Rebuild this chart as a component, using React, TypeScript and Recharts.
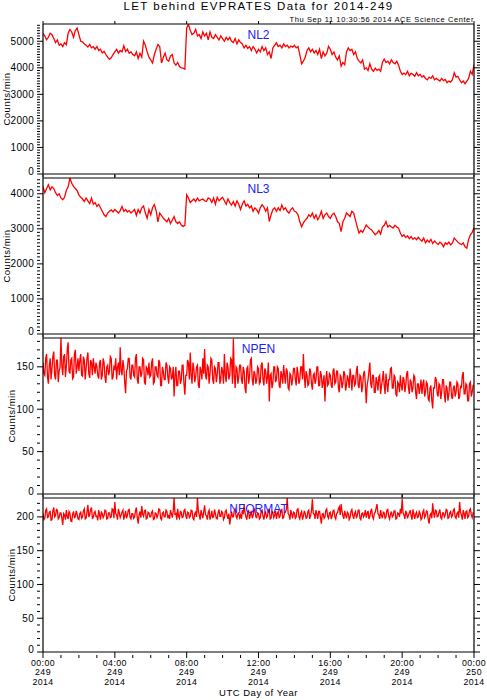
import React from "react";
import { LineChart, Line, XAxis, YAxis } from "recharts";

const TITLE = "LET behind EVPRATES Data for 2014-249";
const STAMP = "Thu Sep 11 10:30:56 2014 ACE Science Center";
const X_TITLE = "UTC Day of Year";
const Y_TITLE = "Counts/min";

// NL2 / NL3: one sample every 6 min; rows = one hour, last value = 24:00
const RATE_STEP_H = 0.1;
// NPEN / NFORMAT: one sample every 3 min; rows = one hour, last value = 24:00
const NOISE_STEP_H = 0.05;

const NL2 = [
  5300, 5200, 5060, 5150, 5300, 5250, 5100, 4950, 5050, 4850,
  4900, 4800, 4950, 4870, 5300, 5440, 5350, 5150, 5400, 5500,
  5250, 5000, 4980, 4900, 4850, 4780, 4880, 4750, 4800, 4700,
  4800, 4650, 4700, 4560, 4620, 4500, 4400, 4320, 4380, 4500,
  4600, 4700, 4550, 4650, 4600, 4830, 4620, 4700, 4550, 4600,
  4500, 4450, 4600, 4350, 4550, 4400, 5000, 4850, 4600, 4400,
  4300, 4180, 4500, 4700, 4880, 4800, 4180, 4400, 4550, 4300,
  4250, 4450, 4500, 4180, 4100, 4200, 4050, 4000, 3990, 3950,
  5500, 5640, 5400, 5250, 5300, 5450, 5200, 5250, 5100, 5350,
  5200, 5300, 5050, 5350, 5150, 5100, 5250, 5150, 5050, 5200,
  5100, 5000, 5150, 5050, 5150, 5000, 4950, 5100, 4900, 5050,
  4950, 4900, 4750, 4850, 4730, 4800, 4650, 4800, 4700, 4560,
  4700, 4600, 4800, 4650, 4750, 4500, 4600, 4350, 4750, 4850,
  4940, 4800, 4850, 4750, 4900, 4800, 4850, 4750, 4820, 4780,
  4850, 4750, 4800, 4500, 4150, 4250, 4400, 4650, 4750, 4600,
  4700, 4560, 4650, 4500, 4700, 4350, 4600, 4450, 4550, 4810,
  4700, 4500, 4600, 4400, 4300, 4450, 4060, 4200, 4120, 4600,
  4750, 4650, 4700, 4500, 4600, 4350, 4250, 4180, 4300, 3950,
  4000, 3900, 4150, 3950, 3870, 3990, 3900, 3950, 3870, 4200,
  4330, 4200, 4250, 4150, 4300, 4200, 4150, 4250, 4100, 3870,
  3750, 3800, 3740, 3870, 3700, 3800, 3750, 3680, 3820, 3700,
  3750, 3650, 3700, 3600, 3550, 3650, 3600, 3700, 3550, 3600,
  3550, 3500, 3600, 3520, 3560, 3440, 3500, 3460, 3550, 3810,
  3650, 3680, 3550, 3440, 3500, 3400, 3500, 3600, 3870, 3750,
  4120,
];

const NL3 = [
  4210, 4030, 4150, 4260, 4110, 4200, 4150, 4030, 3950, 4000,
  3880, 3830, 3900, 4100, 4200, 4450, 4300, 4210, 4150, 4090,
  3970, 3900, 3850, 3780, 3880, 3800, 3720, 3880, 3700, 3750,
  3640, 3700, 3600, 3500, 3400, 3350, 3450, 3500, 3540, 3480,
  3550, 3500, 3450, 3520, 3640, 3500, 3550, 3480, 3520, 3450,
  3500, 3550, 3380, 3550, 3450, 3600, 3650, 3450, 3300, 3550,
  3400, 3600, 3690, 3520, 3200, 3450, 3380, 3300, 3250, 3200,
  3300, 3150, 3250, 3350, 3200, 3150, 3200, 3110, 3070, 3100,
  3970, 3880, 3750, 3800, 3850, 3780, 3880, 3800, 3830, 3850,
  3800, 3780, 3880, 3850, 3750, 3880, 3700, 3900, 3800, 3850,
  3900, 3800, 3700, 3850, 3750, 3680, 3780, 3650, 3800, 3700,
  3550, 3700, 3800, 3650, 3700, 3600, 3650, 3500, 3600, 3540,
  3450, 3600, 3690, 3620, 3500, 3600, 3210, 3400, 3550, 3600,
  3500, 3600, 3520, 3680, 3550, 3600, 3500, 3450, 3550, 3600,
  3500, 3480, 3400, 3200, 3060, 3170, 3250, 3300, 3400, 3350,
  3450, 3300, 3400, 3260, 3350, 3500, 3300, 3400, 3450, 3350,
  3300, 3400, 3450, 3350, 3200, 3150, 2920, 3200, 3300, 3450,
  3400, 3350, 3500, 3450, 3250, 3050, 2880, 2950, 2900, 3000,
  3110, 3050, 3000, 2970, 2900, 2830, 2880, 2950, 2850, 3050,
  3100, 3210, 3050, 3100, 3050, 3020, 3100, 3050, 3020, 2880,
  2780, 2830, 2750, 2800, 2720, 2780, 2700, 2750, 2690, 2760,
  2700, 2650, 2740, 2600, 2680, 2620, 2700, 2580, 2650, 2600,
  2550, 2620, 2580, 2490, 2600, 2560, 2620, 2540, 2600, 2740,
  2680, 2620, 2580, 2550, 2600, 2490, 2450, 2700, 2830, 2900,
  3030,
];

const NPEN = [
  155, 142, 140, 160, 165, 138, 130, 152, 160, 135, 148, 162, 168, 140, 135, 158, 158, 132, 145, 150,
  184, 150, 140, 162, 165, 138, 150, 170, 179, 145, 142, 158, 160, 136, 138, 165, 170, 142, 150, 160,
  145, 158, 165, 140, 139, 162, 158, 135, 148, 160, 167, 142, 137, 158, 155, 140, 160, 150, 142, 155,
  150, 140, 136, 155, 158, 135, 140, 160, 155, 138, 131, 150, 152, 140, 145, 162, 160, 135, 138, 150,
  148, 160, 135, 150, 155, 140, 173, 145, 140, 158, 150, 132, 119, 145, 148, 160, 160, 138, 135, 152,
  152, 140, 138, 160, 165, 135, 130, 150, 150, 138, 142, 160, 158, 132, 129, 150, 148, 140, 155, 138,
  140, 155, 160, 130, 132, 150, 150, 140, 138, 158, 155, 128, 128, 150, 145, 135, 135, 155, 152, 138,
  130, 150, 148, 135, 138, 150, 115, 140, 150, 128, 128, 145, 145, 130, 135, 152, 152, 130, 117, 140,
  140, 158, 155, 135, 167, 140, 130, 155, 148, 132, 138, 150, 152, 128, 125, 150, 145, 135, 160, 142,
  171, 140, 135, 152, 150, 130, 142, 160, 158, 135, 130, 150, 148, 132, 140, 155, 155, 130, 135, 150,
  145, 130, 165, 140, 132, 155, 150, 135, 140, 160, 158, 130, 183, 140, 125, 150, 148, 130, 138, 152,
  152, 135, 130, 150, 145, 125, 119, 148, 150, 130, 138, 158, 160, 135, 128, 145, 142, 130, 135, 150,
  148, 130, 132, 152, 155, 135, 128, 148, 145, 130, 138, 155, 109, 140, 142, 125, 130, 150, 150, 132,
  135, 150, 148, 128, 125, 145, 140, 130, 152, 140, 130, 148, 145, 125, 123, 142, 140, 128, 135, 148,
  148, 135, 128, 150, 142, 130, 135, 150, 150, 135, 165, 140, 125, 145, 140, 128, 130, 148, 145, 130,
  123, 140, 142, 130, 135, 150, 150, 128, 128, 145, 140, 125, 132, 140, 109, 135, 145, 128, 130, 142,
  140, 128, 125, 145, 148, 130, 132, 145, 145, 125, 120, 140, 138, 125, 130, 145, 142, 122, 128, 140,
  135, 125, 148, 138, 122, 140, 140, 128, 130, 145, 151, 128, 125, 140, 138, 120, 128, 142, 145, 130,
  107, 128, 135, 145, 155, 130, 125, 140, 140, 120, 120, 138, 132, 122, 138, 140, 118, 128, 135, 145,
  128, 118, 142, 130, 120, 135, 135, 148, 149, 125, 125, 140, 138, 118, 115, 132, 130, 120, 140, 128,
  122, 138, 135, 120, 128, 142, 145, 125, 118, 135, 132, 120, 125, 140, 138, 120, 112, 130, 130, 118,
  125, 135, 118, 130, 135, 115, 120, 132, 130, 112, 110, 125, 128, 110, 101, 125, 125, 138, 135, 118,
  115, 130, 128, 112, 120, 135, 135, 118, 108, 128, 125, 110, 118, 132, 132, 115, 112, 125, 128, 115,
  120, 132, 130, 112, 115, 128, 125, 140, 144, 118, 118, 130, 128, 110, 110, 130, 132, 115, 120, 128,
  128,
];

const NFORMAT = [
  205, 196, 198, 210, 212, 199, 200, 207, 208, 195, 196, 209, 214, 200, 202, 211, 210, 197, 199, 206,
  206, 198, 188, 205, 203, 196, 210, 201, 197, 208, 205, 194, 193, 204, 208, 199, 200, 209, 204, 197,
  196, 205, 207, 198, 200, 209, 212, 197, 198, 207, 218, 200, 203, 211, 214, 198, 199, 206, 208, 201,
  201, 195, 210, 203, 196, 207, 205, 199, 202, 210, 209, 197, 198, 206, 206, 199, 200, 212, 211, 198,
  222, 205, 203, 196, 212, 206, 199, 203, 207, 210, 196, 202, 209, 198, 202, 210, 211, 199, 197, 205,
  205, 198, 200, 209, 214, 199, 190, 203, 208, 199, 216, 204, 201, 209, 210, 197, 198, 207, 206, 200,
  200, 207, 209, 196, 197, 206, 205, 199, 203, 212, 211, 198, 196, 205, 207, 200, 200, 210, 208, 198,
  203, 197, 210, 205, 199, 208, 228, 204, 205, 196, 212, 201, 198, 208, 207, 199, 200, 209, 211, 202,
  197, 207, 206, 199, 201, 210, 209, 198, 196, 205, 207, 200, 228, 209, 203, 196, 210, 204, 198, 208,
  217, 203, 202, 196, 207, 210, 196, 201, 209, 199, 200, 211, 205, 198, 197, 206, 211, 201, 201, 208,
  206, 196, 199, 208, 210, 202, 197, 205, 189, 199, 208, 200, 200, 209, 212, 201, 198, 205, 206, 199,
  203, 197, 210, 204, 218, 206, 200, 196, 207, 209, 197, 203, 209, 198, 202, 210, 212, 200, 199, 206,
  205, 197, 199, 208, 210, 201, 196, 205, 207, 199, 201, 211, 211, 197, 198, 208, 206, 199, 203, 209,
  197, 205, 208, 199, 201, 210, 211, 198, 199, 206, 207, 211, 228, 205, 203, 196, 210, 204, 198, 207,
  206, 198, 200, 211, 212, 200, 197, 205, 208, 196, 201, 209, 205, 198, 199, 208, 210, 197, 202, 209,
  226, 205, 204, 197, 210, 204, 197, 208, 208, 199, 190, 204, 205, 198, 200, 210, 212, 201, 198, 206,
  207, 197, 201, 209, 210, 200, 197, 205, 206, 212, 215, 203, 219, 208, 202, 197, 209, 203, 198, 207,
  205, 196, 199, 208, 211, 202, 197, 205, 208, 198, 202, 210, 210, 198, 196, 205, 206, 200, 203, 210,
  199, 205, 209, 197, 201, 208, 212, 200, 197, 205, 207, 213, 219, 205, 203, 197, 210, 202, 198, 207,
  206, 198, 200, 210, 211, 201, 197, 204, 208, 200, 202, 209, 209, 197, 198, 206, 205, 200, 212, 205,
  227, 206, 203, 197, 209, 205, 198, 203, 206, 210, 201, 196, 211, 205, 197, 204, 207, 199, 200, 208,
  205, 196, 198, 207, 210, 199, 202, 209, 208, 196, 190, 203, 205, 198, 220, 206, 199, 210, 209, 200,
  201, 207, 211, 199, 197, 206, 206, 200, 203, 211, 210, 198, 199, 206, 208, 200, 202, 210, 212, 200,
  198, 205, 207, 199, 222, 207, 203, 196, 210, 205, 197, 208, 209, 199, 201, 210, 212, 203, 199, 206,
  205,
];

const HOUR_TICKS = [0, 1, 2, 3, 4, 5, 6, 7, 8, 9, 10, 11, 12, 13, 14, 15, 16, 17, 18, 19, 20, 21, 22, 23, 24];
const MAJOR_HOURS = [0, 4, 8, 12, 16, 20, 24];
const TIME_LABELS = ["00:00", "04:00", "08:00", "12:00", "16:00", "20:00", "00:00"];
const DOY_LABELS = ["249", "249", "249", "249", "249", "249", "250"];
const YEAR_LABELS = ["2014", "2014", "2014", "2014", "2014", "2014", "2014"];

const NL2_TICKS = [0, 1000, 2000, 3000, 4000, 5000];
const NL3_TICKS = [0, 1000, 2000, 3000, 4000];
const NPEN_TICKS = [0, 50, 100, 150];
const NFORMAT_TICKS = [0, 50, 100, 150, 200];

const toRows = (values: number[], step: number) => values.map((v, i) => ({ hour: i * step, value: v }));

const W = 487;
const PLOT_LEFT = 43;
const PLOT_RIGHT = 474;
const FONT = '"Liberation Sans", Arial, Helvetica, sans-serif';
const RED = "#ff0000";
const AXIS_LINE = { stroke: "#000", strokeWidth: 1.2 };

const minorTicks = (max: number, step: number) =>
  Array.from({ length: Math.floor(max / step) + 1 }, (_, i) => i * step);

const PANELS = [
  { key: "nl2", name: "NL2", rows: toRows(NL2, RATE_STEP_H), top: 24, bottom: 174, max: 5650, major: NL2_TICKS, step: 100, yTitleX: 10 },
  { key: "nl3", name: "NL3", rows: toRows(NL3, RATE_STEP_H), top: 178, bottom: 334, max: 4450, major: NL3_TICKS, step: 100, yTitleX: 9.5 },
  { key: "npen", name: "NPEN", rows: toRows(NPEN, NOISE_STEP_H), top: 338, bottom: 494, max: 184, major: NPEN_TICKS, step: 10, yTitleX: 15 },
  { key: "nformat", name: "NFORMAT", rows: toRows(NFORMAT, NOISE_STEP_H), top: 498, bottom: 652, max: 228, major: NFORMAT_TICKS, step: 10, yTitleX: 15 },
];

// IDL-style ticks: drawn inward, long on labelled values, short otherwise
function AxisTick(props: any) {
  const { x, y, payload, side, majors, showLabel } = props;
  const v = payload.value;
  const idx = majors.indexOf(v);
  const major = idx >= 0;
  const len = major ? 6 : 3;
  let line;
  if (side === "left") line = <line x1={x} y1={y} x2={x + len} y2={y} />;
  else if (side === "right") line = <line x1={x} y1={y} x2={x - len} y2={y} />;
  else if (side === "top") line = <line x1={x} y1={y} x2={x} y2={y + len} />;
  else line = <line x1={x} y1={y} x2={x} y2={y - len} />;

  const dateText = { textAnchor: "middle" as const, fontFamily: FONT, fontSize: 8.8, letterSpacing: 0.4, fill: "#000" };

  return (
    <g>
      <g stroke="#000" strokeWidth={1}>{line}</g>
      {showLabel && major && side === "left" && (
        <text
          x={x - 3}
          y={y + 3.5 - (v === 0 ? 3 : 0)}
          textAnchor="end"
          fontFamily={FONT}
          fontSize={10}
          letterSpacing={0.3}
          fill="#000"
        >
          {v}
        </text>
      )}
      {showLabel && major && side === "bottom" && (
        <g>
          <text x={x} y={y + 8} {...dateText}>{TIME_LABELS[idx]}</text>
          <text x={x} y={y + 17.4} {...dateText}>{DOY_LABELS[idx]}</text>
          <text x={x} y={y + 26.8} {...dateText}>{YEAR_LABELS[idx]}</text>
        </g>
      )}
    </g>
  );
}

function Panel({ p, last }: { p: (typeof PANELS)[number]; last: boolean }) {
  const mt = 3;
  const mb = last ? 40 : 3;
  const h = mt + (p.bottom - p.top) + mb;
  const yTicks = minorTicks(p.max, p.step);
  // axes get a 1px band (zero-size axes are not drawn), taken out of the margins
  return (
    <div style={{ position: "absolute", left: 0, top: p.top - mt }}>
      <LineChart
        width={W}
        height={h}
        data={p.rows}
        margin={{ top: mt - 1, right: W - PLOT_RIGHT - 1, bottom: mb - 1, left: PLOT_LEFT - 1 }}
      >
        <XAxis
          xAxisId="b"
          orientation="bottom"
          type="number"
          dataKey="hour"
          domain={[0, 24]}
          allowDataOverflow
          ticks={HOUR_TICKS}
          interval={0}
          height={1}
          tickLine={false}
          tickMargin={0}
          axisLine={AXIS_LINE}
          tick={(t: any) => <AxisTick {...t} side="bottom" majors={MAJOR_HOURS} showLabel={last} />}
        />
        <XAxis
          xAxisId="t"
          orientation="top"
          type="number"
          dataKey="hour"
          domain={[0, 24]}
          allowDataOverflow
          ticks={HOUR_TICKS}
          interval={0}
          height={1}
          tickLine={false}
          tickMargin={0}
          axisLine={AXIS_LINE}
          tick={(t: any) => <AxisTick {...t} side="top" majors={MAJOR_HOURS} showLabel={false} />}
        />
        <YAxis
          yAxisId="l"
          orientation="left"
          type="number"
          domain={[0, p.max]}
          allowDataOverflow
          ticks={yTicks}
          interval={0}
          width={1}
          tickLine={false}
          tickMargin={0}
          axisLine={AXIS_LINE}
          tick={(t: any) => <AxisTick {...t} side="left" majors={p.major} showLabel />}
        />
        <YAxis
          yAxisId="r"
          orientation="right"
          type="number"
          domain={[0, p.max]}
          allowDataOverflow
          ticks={yTicks}
          interval={0}
          width={1}
          tickLine={false}
          tickMargin={0}
          axisLine={AXIS_LINE}
          tick={(t: any) => <AxisTick {...t} side="right" majors={p.major} showLabel={false} />}
        />
        <Line
          xAxisId="b"
          yAxisId="l"
          type="linear"
          dataKey="value"
          stroke={RED}
          strokeWidth={1.3}
          dot={false}
          isAnimationActive={false}
        />
      </LineChart>
    </div>
  );
}

export default function App() {
  const cx = (PLOT_LEFT + PLOT_RIGHT) / 2;
  return (
    <div style={{ position: "absolute", left: 0, top: 0, width: W, height: 700, background: "#fff" }}>
      {PANELS.map((p, i) => (
        <Panel key={p.key} p={p} last={i === PANELS.length - 1} />
      ))}
      <svg
        width={W}
        height={700}
        style={{ position: "absolute", left: 0, top: 0, pointerEvents: "none" }}
        fontFamily={FONT}
      >
        <text x={cx} y={10} textAnchor="middle" fontSize={11.5} letterSpacing={1.4} fill="#000">
          {TITLE}
        </text>
        <text x={PLOT_RIGHT} y={21.5} textAnchor="end" fontSize={7.5} letterSpacing={0.6} fill="#000">
          {STAMP}
        </text>
        {PANELS.map((p) => {
          const my = (p.top + p.bottom) / 2;
          return (
            <g key={p.key}>
              <text x={cx} y={p.top + 14.5} textAnchor="middle" fontSize={12} fill="#2020ff">
                {p.name}
              </text>
              <text
                x={p.yTitleX}
                y={my}
                transform={`rotate(-90 ${p.yTitleX} ${my})`}
                textAnchor="middle"
                fontSize={9.5}
                letterSpacing={0.5}
                fill="#000"
              >
                {Y_TITLE}
              </text>
            </g>
          );
        })}
        <text x={cx} y={696} textAnchor="middle" fontSize={9.5} letterSpacing={0.5} fill="#000">
          {X_TITLE}
        </text>
      </svg>
    </div>
  );
}
